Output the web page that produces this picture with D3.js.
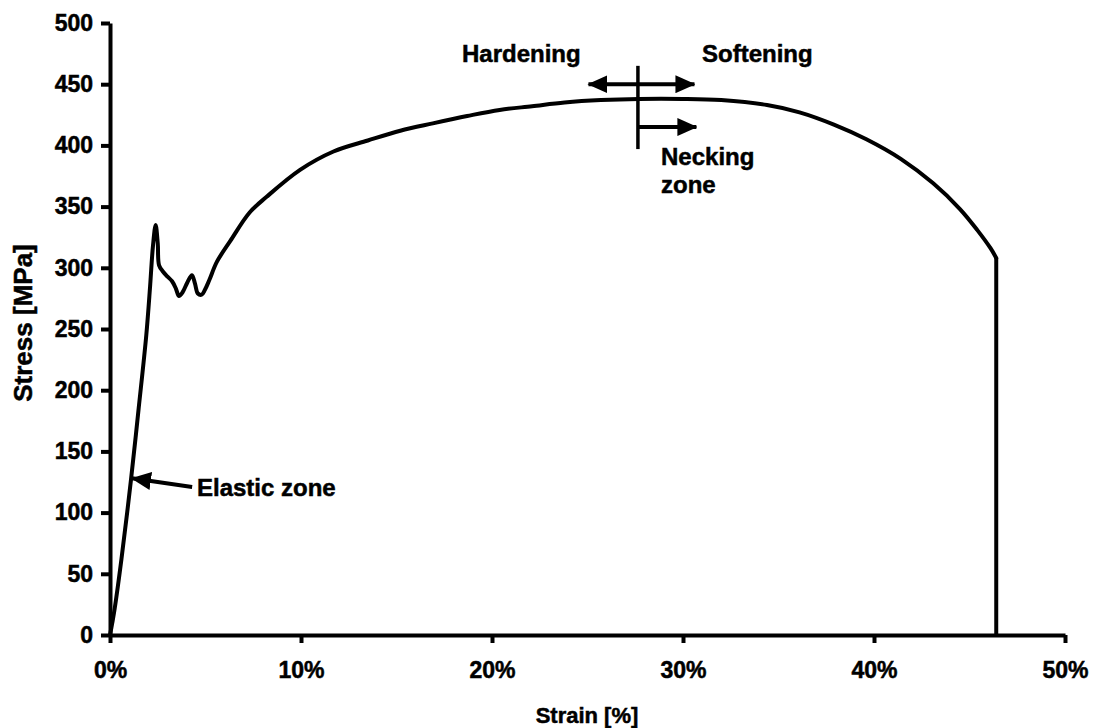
<!DOCTYPE html>
<html>
<head>
<meta charset="utf-8">
<script src="https://cdn.jsdelivr.net/npm/d3@7"></script>
<style>
  html, body { margin: 0; padding: 0; background: #fff; }
  text { font-family: "Liberation Sans", Arial, sans-serif; font-weight: bold; fill: #000; stroke: #000; stroke-width: 0.5px; }
</style>
</head>
<body>
<svg id="chart" width="1093" height="728"></svg>
<script>
// Strain [%] and Stress [MPa]
const strain = [0, 0.12, 0.25, 0.6, 1.1, 1.5, 1.9, 2.1, 2.25, 2.39, 2.5, 2.57, 2.77, 3.0, 3.25, 3.45, 3.61, 3.8, 4.05, 4.29, 4.45, 4.6, 4.8, 4.97, 5.2, 5.6, 6.3, 7.3, 8.2, 9.95, 11.7, 13.5, 15.2, 16.9, 18.7, 20.4, 22.1, 23.8, 25.7, 27.7, 30.0, 32.0, 34.4, 36.1, 37.9, 39.6, 41.4, 43.1, 44.5, 45.4, 46.1, 46.4, 46.4];
const stress = [0, 10, 22, 62, 127, 185, 245, 285, 318, 335, 320, 302, 297, 293, 289, 283, 277, 280, 288, 294, 287, 279, 278, 282, 290, 305, 322, 345, 358, 380, 395, 404, 412, 418, 424, 429, 432, 435, 437, 438, 438, 437, 433, 427, 417, 405, 389, 369, 348, 331, 316, 308, 0];

const xTicks = [0, 10, 20, 30, 40, 50];
const yTicks = [0, 50, 100, 150, 200, 250, 300, 350, 400, 450, 500];

const svg = d3.select("#chart");
const x = d3.scaleLinear().domain([0, 50]).range([110, 1065]);
const y = d3.scaleLinear().domain([0, 500]).range([635, 23]);

// axes
const yAxis = svg.append("g").attr("transform", "translate(110,0)")
  .call(d3.axisLeft(y).tickValues(yTicks).tickSize(9).tickPadding(8).tickSizeOuter(0));
const xAxis = svg.append("g").attr("transform", "translate(0,635)")
  .call(d3.axisBottom(x).tickValues(xTicks).tickSize(8).tickPadding(19).tickFormat(d => d + "%").tickSizeOuter(0));
[yAxis, xAxis].forEach(g => {
  g.select(".domain").attr("stroke", "#000").attr("stroke-width", 4);
  g.selectAll(".tick line").attr("stroke", "#000").attr("stroke-width", 4);
  g.selectAll(".tick text").style("font-size", "23px").attr("font-family", null).attr("fill", "#000");
});

// curve: smooth part, then the straight fracture drop
const pts = strain.map((s, i) => [s, stress[i]]);
const nSmooth = pts.length - 1;
const smooth = d3.line().x(d => x(d[0])).y(d => y(d[1])).curve(d3.curveCatmullRom.alpha(0.5));
const straight = d3.line().x(d => x(d[0])).y(d => y(d[1]));
svg.append("path").attr("d", smooth(pts.slice(0, nSmooth))).attr("fill", "none").attr("stroke", "#000")
  .attr("stroke-width", 4).attr("stroke-linejoin", "round").attr("stroke-linecap", "round");
svg.append("path").attr("d", straight(pts.slice(nSmooth - 1))).attr("fill", "none").attr("stroke", "#000")
  .attr("stroke-width", 4).attr("stroke-linejoin", "round");

// arrowheads
const defs = svg.append("defs");
defs.append("marker").attr("id", "ah").attr("markerUnits", "userSpaceOnUse")
  .attr("viewBox", "0 0 20 18").attr("refX", 19).attr("refY", 9)
  .attr("markerWidth", 20).attr("markerHeight", 18).attr("orient", "auto-start-reverse")
  .append("path").attr("d", "M0,0 L20,9 L0,18 Z").attr("fill", "#000");

const ann = svg.append("g");
// vertical divider
ann.append("line").attr("x1", x(27.64)).attr("x2", x(27.64)).attr("y1", y(465)).attr("y2", y(397))
  .attr("stroke", "#000").attr("stroke-width", 3.5);
// double arrow
ann.append("line").attr("x1", x(25.05)).attr("x2", x(30.6)).attr("y1", y(450)).attr("y2", y(450))
  .attr("stroke", "#000").attr("stroke-width", 4)
  .attr("marker-start", "url(#ah)").attr("marker-end", "url(#ah)");
// necking arrow
ann.append("line").attr("x1", x(27.64)).attr("x2", x(30.7)).attr("y1", y(415)).attr("y2", y(415))
  .attr("stroke", "#000").attr("stroke-width", 4).attr("marker-end", "url(#ah)");
// elastic arrow
ann.append("line").attr("x1", x(4.3)).attr("x2", x(1.15)).attr("y1", y(121)).attr("y2", y(128))
  .attr("stroke", "#000").attr("stroke-width", 4).attr("marker-end", "url(#ah)");

const fs = "24px";
ann.append("text").attr("x", 462).attr("y", 62).style("font-size", fs).text("Hardening");
ann.append("text").attr("x", 702).attr("y", 62).style("font-size", fs).text("Softening");
ann.append("text").attr("x", 661).attr("y", 165).style("font-size", fs).text("Necking");
ann.append("text").attr("x", 661).attr("y", 193).style("font-size", fs).text("zone");
ann.append("text").attr("x", 197).attr("y", 496).style("font-size", fs).text("Elastic zone");

// axis titles
svg.append("text").attr("x", 587).attr("y", 723).attr("text-anchor", "middle").style("font-size", "22px").text("Strain [%]");
svg.append("text").attr("transform", "translate(32,323) rotate(-90)").attr("text-anchor", "middle").style("font-size", "26px").text("Stress [MPa]");
</script>
</body>
</html>
